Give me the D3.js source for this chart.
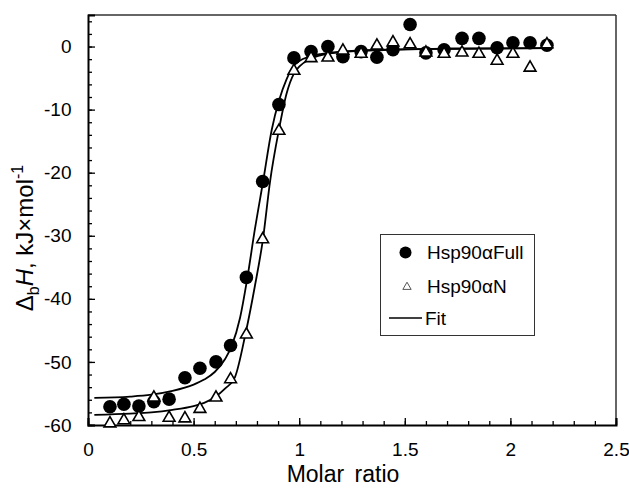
<!DOCTYPE html>
<html><head><meta charset="utf-8">
<script src="https://cdn.jsdelivr.net/npm/d3@7"></script>
<style>body{margin:0;background:#fff;} text{font-family:"Liberation Sans",Arial,sans-serif;}</style>
</head><body>
<svg id="chart" width="629" height="489"></svg>
<script>
// Data
const molarRatio = [0.104,0.170,0.241,0.312,0.384,0.459,0.530,0.606,0.675,0.750,0.827,0.904,0.975,1.056,1.136,1.207,1.293,1.368,1.444,1.525,1.600,1.686,1.771,1.851,1.937,2.012,2.093,2.173];
const fullValues = [-57.1,-56.7,-57.0,-56.3,-55.9,-52.5,-51.0,-50.0,-47.4,-36.6,-21.4,-9.2,-1.8,-0.8,0.0,-1.6,-0.8,-1.7,-0.5,3.5,-1.0,-0.5,1.3,1.3,-0.2,0.6,0.6,0.2];
const nValues    = [-59.6,-59.1,-58.6,-55.5,-58.7,-58.8,-57.3,-55.5,-52.6,-45.5,-30.4,-13.2,-3.7,-1.7,-1.6,-0.5,-1.0,0.3,0.8,0.5,-0.8,-1.0,-0.8,-1.0,-2.1,-1.0,-3.2,0.5];
const fitFullX = [0.03,0.2,0.3,0.4,0.5,0.55,0.6,0.65,0.68,0.72,0.753,0.79,0.829,0.87,0.904,0.94,0.975,1.0,1.05,1.1,1.2,1.4,1.7,2.18];
const fitFullY = [-55.7,-55.5,-55.2,-54.6,-53.6,-52.8,-51.6,-49.5,-47.5,-43.0,-37.0,-29.0,-21.4,-13.2,-8.6,-5.2,-3.0,-2.3,-1.6,-1.2,-0.8,-0.5,-0.35,-0.25];
const fitNX = [0.03,0.2,0.3,0.4,0.5,0.55,0.6,0.65,0.696,0.746,0.79,0.829,0.862,0.904,0.94,0.975,1.0,1.05,1.1,1.2,1.4,1.7,2.18];
const fitNY = [-58.4,-58.2,-58.0,-57.6,-57.0,-56.5,-55.6,-54.2,-52.4,-45.5,-38.0,-30.4,-21.4,-13.2,-7.5,-4.3,-3.2,-2.0,-1.4,-0.9,-0.55,-0.35,-0.25];
const xTicks = [0,0.5,1,1.5,2,2.5];
const xTickLabels = ["0","0.5","1","1.5","2","2.5"];
const yTicks = [-60,-50,-40,-30,-20,-10,0];
const yTickLabels = ["-60","-50","-40","-30","-20","-10","0"];
const legendLabels = ["Hsp90αFull","Hsp90αN","Fit"];

const svg = d3.select("#chart");
const L = 88, R = 616, T = 15, B = 425;
const FONT = "Liberation Sans, Arial, sans-serif";
const x = d3.scaleLinear().domain([0,2.5]).range([L,R]);
const y = d3.scaleLinear().domain([-60,5]).range([B,T]);

// frame
svg.append("line").attr("x1",L).attr("x2",R).attr("y1",T).attr("y2",T).attr("stroke","#333").attr("stroke-width",1.5);
svg.append("line").attr("x1",R).attr("x2",R).attr("y1",T).attr("y2",B).attr("stroke","#333").attr("stroke-width",1.5);

// axes (inward ticks)
const xMinor = d3.range(0,2.51,0.1).map(v=>+v.toFixed(2));
const yMinor = d3.range(-60,5,2);
const gx = svg.append("g").attr("transform",`translate(0,${B})`);
gx.call(d3.axisBottom(x).tickValues(xMinor).tickSize(-4).tickFormat(""));
gx.select(".domain").remove();
gx.selectAll(".tick line").attr("stroke","#000").attr("stroke-width",1.3);
const gx2 = svg.append("g").attr("transform",`translate(0,${B})`);
gx2.call(d3.axisBottom(x).tickValues(xTicks).tickSize(-7).tickPadding(17.5).tickFormat((d,i)=>xTickLabels[i]));
gx2.selectAll(".tick line").attr("stroke","#000").attr("stroke-width",1.3);
gx2.select(".domain").attr("stroke","#000").attr("stroke-width",2);
gx2.selectAll("text").attr("font-size",19).attr("fill","#000").attr("font-family",FONT);

const gy = svg.append("g").attr("transform",`translate(${L},0)`);
gy.call(d3.axisLeft(y).tickValues(yMinor).tickSize(-4).tickFormat(""));
gy.select(".domain").remove();
gy.selectAll(".tick line").attr("stroke","#000").attr("stroke-width",1.3);
const gy2 = svg.append("g").attr("transform",`translate(${L},0)`);
gy2.call(d3.axisLeft(y).tickValues(yTicks).tickSize(-7).tickPadding(16.5).tickFormat((d,i)=>yTickLabels[i]));
gy2.selectAll(".tick line").attr("stroke","#000").attr("stroke-width",1.3);
gy2.select(".domain").attr("stroke","#000").attr("stroke-width",2);
gy2.selectAll("text").attr("font-size",19).attr("fill","#000").attr("font-family",FONT);

// titles
svg.append("text").attr("x",343).attr("y",482).attr("text-anchor","middle").attr("font-size",23).attr("word-spacing",4).text("Molar ratio");
const yt = svg.append("text").attr("transform","translate(33,238) rotate(-90)").attr("text-anchor","middle").attr("font-size",24);
yt.append("tspan").text("Δ");
yt.append("tspan").attr("dy",6).attr("font-size",16).text("b");
yt.append("tspan").attr("dy",-6).attr("font-style","italic").text("H");
yt.append("tspan").text(", kJ×mol");
yt.append("tspan").attr("dy",-10).attr("font-size",16).text("-1");

// fit lines
const line = d3.line().x(d=>x(d[0])).y(d=>y(d[1])).curve(d3.curveMonotoneX);
svg.append("path").datum(fitFullX.map((v,i)=>[v,fitFullY[i]])).attr("d",line).attr("fill","none").attr("stroke","#000").attr("stroke-width",1.8);
svg.append("path").datum(fitNX.map((v,i)=>[v,fitNY[i]])).attr("d",line).attr("fill","none").attr("stroke","#000").attr("stroke-width",1.8);

// points
svg.append("g").selectAll("circle").data(molarRatio.map((v,i)=>[v,fullValues[i]])).join("circle")
  .attr("cx",d=>x(d[0])).attr("cy",d=>y(d[1])).attr("r",6.8).attr("fill","#000");
const tri = d3.symbol().type(d3.symbolTriangle).size(60);
svg.append("g").selectAll("path").data(molarRatio.map((v,i)=>[v,nValues[i]])).join("path")
  .attr("transform",d=>`translate(${x(d[0])},${y(d[1])+1})`).attr("d",tri)
  .attr("fill","#fff").attr("stroke","#000").attr("stroke-width",1.6);

// legend
const lg = svg.append("g");
lg.append("rect").attr("x",380.5).attr("y",234.5).attr("width",154).attr("height",101).attr("fill","#fff").attr("stroke","#333").attr("stroke-width",1);
lg.append("circle").attr("cx",405.5).attr("cy",252.5).attr("r",6).attr("fill","#000");
lg.append("path").attr("transform","translate(407,287)").attr("d",d3.symbol().type(d3.symbolTriangle).size(30)).attr("fill","#fff").attr("stroke","#555").attr("stroke-width",1);
lg.append("line").attr("x1",389).attr("x2",422).attr("y1",318).attr("y2",318).attr("stroke","#000").attr("stroke-width",1.6);
const ly = [252.5,286,318];
lg.selectAll("text.lab").data(legendLabels).join("text").attr("class","lab")
  .attr("x",(d,i)=>i===2?425:427).attr("y",(d,i)=>ly[i]).attr("dy","0.36em").attr("font-size",19).attr("font-family",FONT).text(d=>d);
</script>
</body></html>
